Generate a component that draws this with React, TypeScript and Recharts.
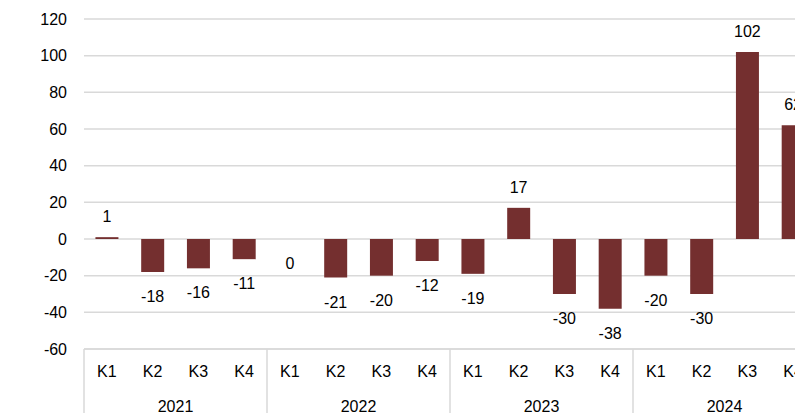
import { Bar, CartesianGrid, ComposedChart, LabelList, Line, XAxis, YAxis } from "recharts";

const QUARTERS = ["K1", "K2", "K3", "K4"];
const YEARS = ["2021", "2022", "2023", "2024"];
const VALUES = [1, -18, -16, -11, 0, -21, -20, -12, -19, 17, -30, -38, -20, -30, 102, 62];
const Y_TICKS = [-60, -40, -20, 0, 20, 40, 60, 80, 100, 120];

const BAR_COLOR = "#742f2f";
const GRID_COLOR = "#d9d9d9";
const FONT = "'Liberation Sans', Arial, sans-serif";

const data = VALUES.map((value, index) => ({
  quarter: QUARTERS[index % QUARTERS.length],
  year: YEARS[Math.floor(index / QUARTERS.length)],
  value,
}));

// labels sit on an invisible line so the zero entry gets one too
function ValueLabel(props: any) {
  const { x, y, value } = props;
  const ty = value > 0 ? y - 15 : y + 30;
  return (
    <text x={x} y={ty} textAnchor="middle" fill="#000" fontSize={16} fontFamily={FONT}>
      {value}
    </text>
  );
}

function YearTick(props: any) {
  const { x, y, payload, width, visibleTicksCount } = props;
  const group = (width ?? 732) / (visibleTicksCount ?? YEARS.length);
  const left = x - group / 2;
  return (
    <g>
      <line x1={left} x2={left} y1={y - 52} y2={y + 40} stroke={GRID_COLOR} strokeWidth={1.5} />
      <text x={x} y={y} dy="0.71em" textAnchor="middle" fill="#000" fontSize={16} fontFamily={FONT}>
        {payload.value}
      </text>
    </g>
  );
}

export default function App() {
  return (
    <div
      style={{
        position: "absolute",
        left: 0,
        top: 0,
        width: 795,
        height: 413,
        overflow: "hidden",
        background: "#fff",
        fontFamily: FONT,
      }}
    >
      <ComposedChart
        width={830}
        height={413}
        data={data}
        barCategoryGap="25%"
        margin={{ top: 19, right: 14, bottom: 0, left: 0 }}
      >
        <CartesianGrid vertical={false} stroke={GRID_COLOR} strokeWidth={1.5} />
        <XAxis
          xAxisId="q"
          dataKey="quarter"
          height={32}
          interval={0}
          tickLine={false}
          tickSize={0}
          tickMargin={17}
          axisLine={{ stroke: GRID_COLOR, strokeWidth: 1.5 }}
          tick={{ fill: "#000", fontSize: 16, fontFamily: FONT }}
        />
        <XAxis
          xAxisId="year"
          dataKey="year"
          allowDuplicatedCategory={false}
          height={32}
          interval={0}
          axisLine={false}
          tickLine={false}
          tickSize={0}
          tickMargin={20}
          tick={<YearTick />}
        />
        <YAxis
          width={84}
          domain={[-60, 120]}
          ticks={Y_TICKS}
          interval={0}
          axisLine={false}
          tickLine={false}
          tickSize={0}
          tickMargin={17}
          tick={{ fill: "#000", fontSize: 16, fontFamily: FONT }}
        />
        <Bar xAxisId="q" dataKey="value" fill={BAR_COLOR} isAnimationActive={false} />
        <Line
          xAxisId="q"
          dataKey="value"
          stroke="none"
          dot={false}
          activeDot={false}
          legendType="none"
          isAnimationActive={false}
        >
          <LabelList dataKey="value" content={<ValueLabel />} />
        </Line>
      </ComposedChart>
    </div>
  );
}
